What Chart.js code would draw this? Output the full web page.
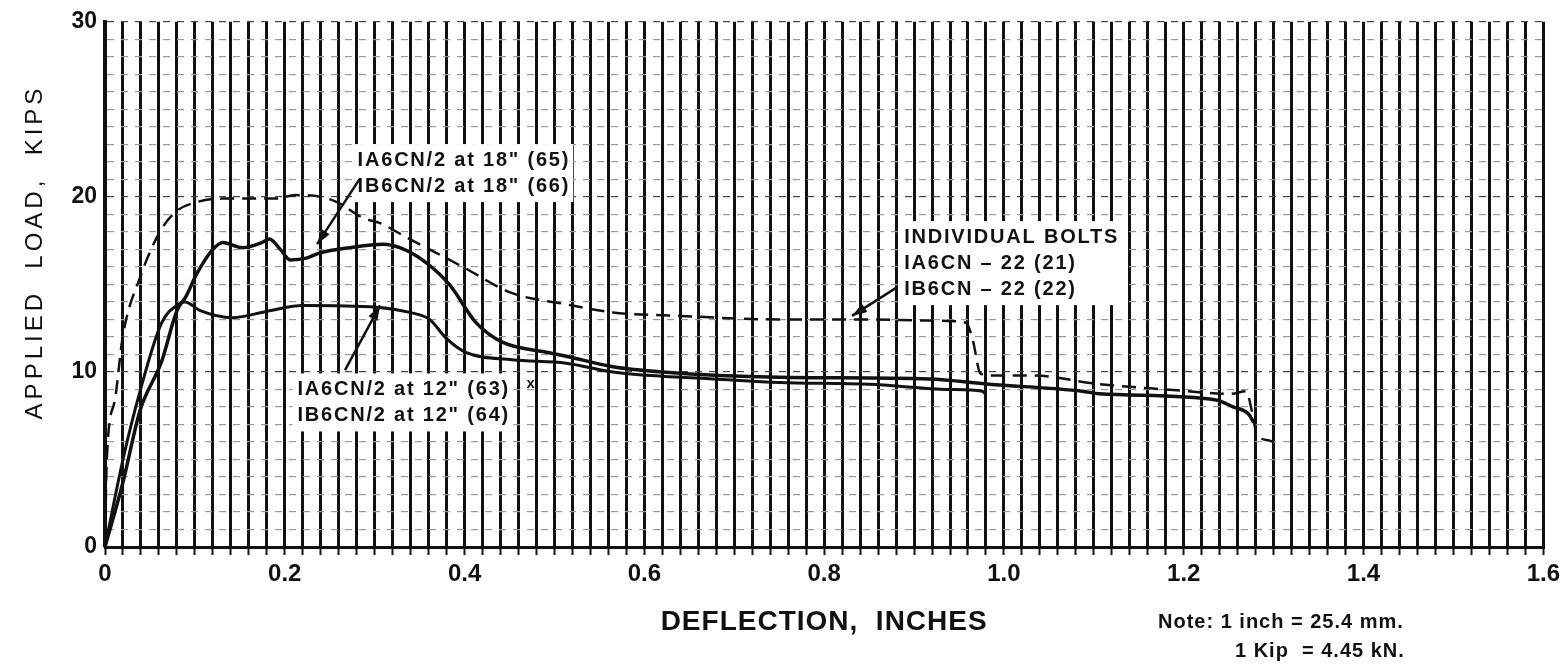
<!DOCTYPE html>
<html>
<head>
<meta charset="utf-8">
<script src="https://cdn.jsdelivr.net/npm/chart.js@4/dist/chart.umd.min.js"></script>
<style>
  html, body { margin: 0; padding: 0; background: #fff; }
  #wrap { width: 1565px; height: 665px; position: relative; }
</style>
</head>
<body>
<div id="wrap"><canvas id="chartCarga"></canvas></div>
<script>
// Individual bolts (dashed)
const boltsX = [0, 0.002, 0.011, 0.02, 0.039, 0.061, 0.08, 0.102, 0.13, 0.16, 0.19, 0.212, 0.24, 0.258, 0.287, 0.306, 0.335, 0.361, 0.398, 0.453, 0.509, 0.565, 0.639, 0.75, 0.828, 0.947, 0.958, 0.965, 0.974, 0.985, 1.031, 1.106, 1.18, 1.253, 1.269, 1.278, 1.281, 1.294, 1.3];
const boltsY = [0, 5, 8.4, 12.1, 15.4, 18.0, 19.2, 19.7, 19.9, 19.9, 19.9, 20.1, 20.0, 19.7, 18.8, 18.5, 17.7, 17.0, 16.0, 14.5, 13.9, 13.4, 13.2, 13.0, 13.0, 12.9, 12.8, 11.9, 9.9, 9.8, 9.8, 9.3, 9.0, 8.75, 8.9, 7.2, 6.4, 6.1, 6.0];

// IA6CN/2, IB6CN/2 at 18"
const at18X = [0, 0.02, 0.039, 0.063, 0.08, 0.09, 0.102, 0.12, 0.131, 0.153, 0.175, 0.183, 0.195, 0.206, 0.224, 0.239, 0.272, 0.31, 0.328, 0.353, 0.383, 0.413, 0.442, 0.494, 0.513, 0.565, 0.62, 0.75, 0.917, 0.983, 1.087, 1.106, 1.236, 1.255, 1.272, 1.278];
const at18Y = [0, 3.7, 7.8, 10.6, 13.5, 14.3, 15.6, 17.0, 17.4, 17.1, 17.4, 17.6, 17.0, 16.4, 16.5, 16.8, 17.1, 17.3, 17.1, 16.4, 15.0, 12.8, 11.7, 11.1, 10.9, 10.3, 10.0, 9.7, 9.6, 9.3, 8.9, 8.75, 8.4, 8.0, 7.6, 7.1];

// IA6CN/2, IB6CN/2 at 12"
const at12X = [0, 0.02, 0.039, 0.063, 0.083, 0.089, 0.106, 0.142, 0.183, 0.22, 0.302, 0.339, 0.361, 0.38, 0.402, 0.453, 0.513, 0.565, 0.62, 0.676, 0.75, 0.85, 0.939, 0.976, 0.98];
const at12Y = [0, 5.0, 8.9, 12.8, 13.9, 14.0, 13.5, 13.1, 13.5, 13.8, 13.7, 13.4, 13.0, 11.9, 11.1, 10.7, 10.5, 10.0, 9.75, 9.6, 9.4, 9.3, 9.0, 8.9, 8.7];

const xTickValues = [0, 0.2, 0.4, 0.6, 0.8, 1.0, 1.2, 1.4, 1.6];
const xTickLabels = ['0', '0.2', '0.4', '0.6', '0.8', '1.0', '1.2', '1.4', '1.6'];
const yTickValues = [0, 10, 20, 30];
const yTickLabels = ['0', '10', '20', '30'];

const toPoints = (xs, ys) => xs.map((x, i) => ({ x: x, y: ys[i] }));

// labels drawn on the plot (data coordinates)
const notas = [
  { lines: ['IA6CN/2 at 18" (65)', 'IB6CN/2 at 18" (66)'], x: 0.281, y: 22.1, from: [0.283, 21.0], to: [0.236, 17.3] },
  { lines: ['INDIVIDUAL BOLTS', 'IA6CN \u2013 22 (21)', 'IB6CN \u2013 22 (22)'], x: 0.889, y: 17.7, from: [0.88, 14.8], to: [0.831, 13.2] },
  { lines: ['IA6CN/2 at 12" (63)', 'IB6CN/2 at 12" (64)'], x: 0.214, y: 9.0, from: [0.267, 10.1], to: [0.306, 13.8] }
];

const FONT = '"Liberation Sans", Arial, sans-serif';

function seta(ctx, x1, y1, x2, y2) {
  ctx.beginPath();
  ctx.moveTo(x1, y1);
  ctx.lineTo(x2, y2);
  ctx.stroke();
  const ang = Math.atan2(y2 - y1, x2 - x1);
  ctx.beginPath();
  ctx.moveTo(x2, y2);
  ctx.lineTo(x2 - 15 * Math.cos(ang) + 5 * Math.sin(ang), y2 - 15 * Math.sin(ang) - 5 * Math.cos(ang));
  ctx.lineTo(x2 - 15 * Math.cos(ang) - 5 * Math.sin(ang), y2 - 15 * Math.sin(ang) + 5 * Math.cos(ang));
  ctx.closePath();
  ctx.fill();
}

const pluginTextos = {
  id: 'textos',
  afterDatasetsDraw(chart) {
    const ctx = chart.ctx;
    const sx = chart.scales.x, sy = chart.scales.y;
    ctx.save();
    ctx.font = 'bold 20px ' + FONT;
    ctx.letterSpacing = '1.8px';
    ctx.textBaseline = 'middle';
    ctx.textAlign = 'left';
    notas.forEach(n => {
      const px = sx.getPixelForValue(n.x);
      const py = sy.getPixelForValue(n.y);
      const w = Math.max(...n.lines.map(l => ctx.measureText(l).width));
      ctx.fillStyle = '#fff';
      ctx.fillRect(px - 5, py - 16, w + 8, n.lines.length * 26 + 6);
      ctx.fillStyle = '#111';
      n.lines.forEach((l, i) => ctx.fillText(l, px, py + i * 26));
      ctx.strokeStyle = '#111';
      ctx.lineWidth = 2.5;
      seta(ctx, sx.getPixelForValue(n.from[0]), sy.getPixelForValue(n.from[1]),
               sx.getPixelForValue(n.to[0]), sy.getPixelForValue(n.to[1]));
    });
    // small cross mark
    ctx.letterSpacing = '0px';
    ctx.font = 'bold 15px ' + FONT;
    ctx.fillText('x', sx.getPixelForValue(0.469), sy.getPixelForValue(9.3));
    ctx.restore();
  },
  afterDraw(chart) {
    const ctx = chart.ctx;
    const a = chart.chartArea;
    ctx.save();
    ctx.fillStyle = '#111';
    // y title
    ctx.translate(35, 252);
    ctx.rotate(-Math.PI / 2);
    ctx.font = '24px ' + FONT;
    ctx.letterSpacing = '4px';
    ctx.textAlign = 'center';
    ctx.textBaseline = 'middle';
    ctx.fillText('APPLIED  LOAD,  KIPS', 0, 0);
    ctx.restore();

    ctx.save();
    ctx.fillStyle = '#111';
    ctx.textBaseline = 'middle';
    ctx.font = 'bold 28px ' + FONT;
    ctx.letterSpacing = '1px';
    ctx.textAlign = 'center';
    ctx.fillText('DEFLECTION,  INCHES', (a.left + a.right) / 2, 622);
    ctx.textAlign = 'left';
    ctx.font = 'bold 20px ' + FONT;
    ctx.letterSpacing = '1px';
    ctx.fillText('Note: 1 inch = 25.4 mm.', 1158, 622);
    ctx.fillText('1 Kip  = 4.45 kN.', 1235, 651);
    ctx.restore();
  }
};

new Chart(document.getElementById('chartCarga').getContext('2d'), {
  type: 'scatter',
  data: {
    datasets: [
      {
        label: 'Individual bolts',
        data: toPoints(boltsX, boltsY),
        showLine: true,
        borderColor: '#111',
        borderWidth: 2.5,
        borderDash: [14, 8],
        pointRadius: 0,
        cubicInterpolationMode: 'monotone'
      },
      {
        label: 'at 18"',
        data: toPoints(at18X, at18Y),
        showLine: true,
        borderColor: '#111',
        borderWidth: 3.5,
        pointRadius: 0,
        cubicInterpolationMode: 'monotone'
      },
      {
        label: 'at 12"',
        data: toPoints(at12X, at12Y),
        showLine: true,
        borderColor: '#111',
        borderWidth: 3,
        pointRadius: 0,
        cubicInterpolationMode: 'monotone'
      }
    ]
  },
  options: {
    responsive: true,
    maintainAspectRatio: false,
    animation: false,
    layout: { padding: { top: 15, right: 20, left: 0, bottom: 0 } },
    plugins: { legend: { display: false }, tooltip: { enabled: false } },
    scales: {
      x: {
        type: 'linear',
        min: 0,
        max: 1.6,
        afterFit: s => { s.height = 118; },
        ticks: {
          stepSize: 0.02,
          autoSkip: false,
          maxRotation: 0,
          maxTicksLimit: 200,
          padding: 5,
          color: '#111',
          font: { family: FONT, size: 24, weight: 'bold' },
          callback: v => {
            const i = xTickValues.findIndex(t => Math.abs(t - v) < 1e-6);
            return i >= 0 ? xTickLabels[i] : '';
          }
        },
        grid: { color: '#111', lineWidth: 3, drawTicks: true, tickLength: 8, tickWidth: 2, tickColor: '#111' },
        border: { display: true, color: '#111', width: 3 }
      },
      y: {
        min: 0,
        max: 30,
        afterFit: s => { s.width = 105; },
        ticks: {
          stepSize: 1,
          autoSkip: false,
          maxTicksLimit: 100,
          padding: 8,
          color: '#111',
          font: { family: FONT, size: 23, weight: 'bold' },
          callback: v => {
            const i = yTickValues.indexOf(Math.round(v * 1000) / 1000);
            return i >= 0 ? yTickLabels[i] : '';
          }
        },
        grid: {
          drawTicks: false,
          color: c => (c.tick && c.tick.value % 10 === 0 ? '#444' : '#999'),
          lineWidth: 1.2
        },
        border: { display: true, color: '#111', width: 4, dash: [7, 7] }
      }
    }
  },
  plugins: [pluginTextos]
});
</script>
</body>
</html>
